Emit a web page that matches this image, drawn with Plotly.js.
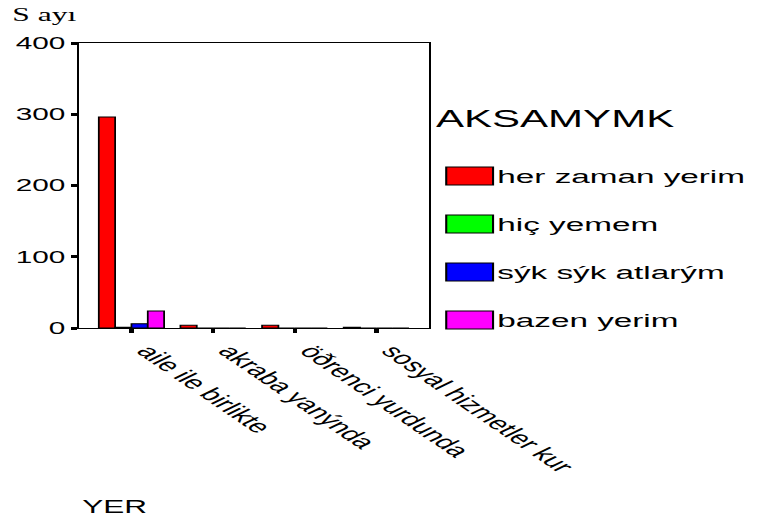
<!DOCTYPE html>
<html><head><meta charset="utf-8">
<script src="https://cdn.plot.ly/plotly-3.0.1.min.js"></script>
<style>
html,body{margin:0;padding:0;background:#fff;overflow:hidden;width:767px;height:527px}
#wrap{width:767px;height:527px;overflow:hidden;position:relative}
#chart{width:438px;height:527px;transform:scaleX(1.751);transform-origin:0 0}
</style>
</head><body><div id="wrap"><div id="chart"></div></div>
<script>
// Data
const categories = ["aile ile birlikte", "akraba yanýnda", "öðrenci yurdunda", "sosyal hizmetler kur"];
const seriesNames = ["her zaman yerim", "hiç yemem", "sýk sýk atlarým", "bazen yerim"];
const seriesColors = ["#ff0000", "#00ff00", "#0000ff", "#ff00ff"];
const herZamanYerim = [296, 4, 4, 1];
const hicYemem = [1, 0, 0, 0];
const sikSikAtlarim = [6, 0, 0, 0];
const bazenYerim = [24, 0, 0, 0];
const yTickVals = [0, 100, 200, 300, 400];
const legendTitle = "AKSAMYMK";
const xTitle = "YER";
const yTitle = "S ayı";

const S = 1.751;               // horizontal stretch of the reference
const L = 44.6, R = 192.6, T = 43, B = 199;
const W = 438, H = 527;
const PW = W - L - R, PH = H - T - B;
const fx = x => (x / S - L) / PW;   // reference pixel x -> paper
const fy = y => (H - B - y) / PH;   // reference pixel y -> paper

const values = [herZamanYerim, hicYemem, sikSikAtlarim, bazenYerim];
const traces = values.map((v, i) => ({
  type: 'bar', x: categories, y: v, name: seriesNames[i],
  marker: {color: seriesColors[i], line: {color: '#000', width: 1}},
  showlegend: false, hoverinfo: 'x+y+name'
}));

const font = 'Liberation Sans, Arial, sans-serif';
const shapes = [], annotations = [];
const legendY = [176, 224, 272, 320];
seriesNames.forEach((n, i) => {
  shapes.push({type: 'rect', xref: 'paper', yref: 'paper',
    x0: fx(447), x1: fx(494), y0: fy(legendY[i] + 9), y1: fy(legendY[i] - 9),
    fillcolor: seriesColors[i], line: {color: '#000', width: 1.2}});
  annotations.push({xref: 'paper', yref: 'paper', x: fx(494), y: fy(legendY[i]),
    xanchor: 'left', yanchor: 'middle', text: n, showarrow: false,
    font: {family: font, size: 19, color: '#000'}});
});
annotations.push({xref: 'paper', yref: 'paper', x: fx(433), y: fy(118),
  xanchor: 'left', yanchor: 'middle', text: legendTitle, showarrow: false,
  font: {family: font, size: 24, color: '#000'}});
annotations.push({xref: 'paper', yref: 'paper', x: fx(78), y: fy(507),
  xanchor: 'left', yanchor: 'middle', text: xTitle, showarrow: false,
  font: {family: font, size: 18, color: '#000'}});
annotations.push({xref: 'paper', yref: 'paper', x: fx(8), y: fy(15),
  xanchor: 'left', yanchor: 'middle', text: yTitle, showarrow: false,
  font: {family: 'Liberation Serif, Times New Roman, serif', size: 18, color: '#000'}});

const layout = {
  width: W, height: H,
  margin: {l: L, r: R, t: T, b: B, pad: 0},
  paper_bgcolor: '#fff', plot_bgcolor: '#fff',
  barmode: 'group', bargap: 0.2, bargroupgap: 0,
  xaxis: {
    type: 'category', range: [-0.645, 3.645],
    showline: true, mirror: true, linecolor: '#000', linewidth: 1.3,
    showgrid: false, zeroline: false,
    ticks: 'outside', ticklen: 4, tickwidth: 2.5, tickcolor: '#000',
    tickangle: 50, ticklabelshift: 9,
    tickfont: {family: font, size: 18, color: '#000'},
    automargin: false
  },
  yaxis: {
    range: [0, 400], tickvals: yTickVals, ticktext: yTickVals.map(String),
    showline: true, mirror: true, linecolor: '#000', linewidth: 1.3,
    showgrid: false, zeroline: false,
    ticks: 'outside', ticklen: 3, tickwidth: 3, tickcolor: '#000',
    tickfont: {family: font, size: 17, color: '#000'},
    automargin: false
  },
  shapes: shapes, annotations: annotations,
  font: {family: font, color: '#000'}
};
Plotly.newPlot('chart', traces, layout, {displayModeBar: false, staticPlot: true});
</script>
</body></html>
